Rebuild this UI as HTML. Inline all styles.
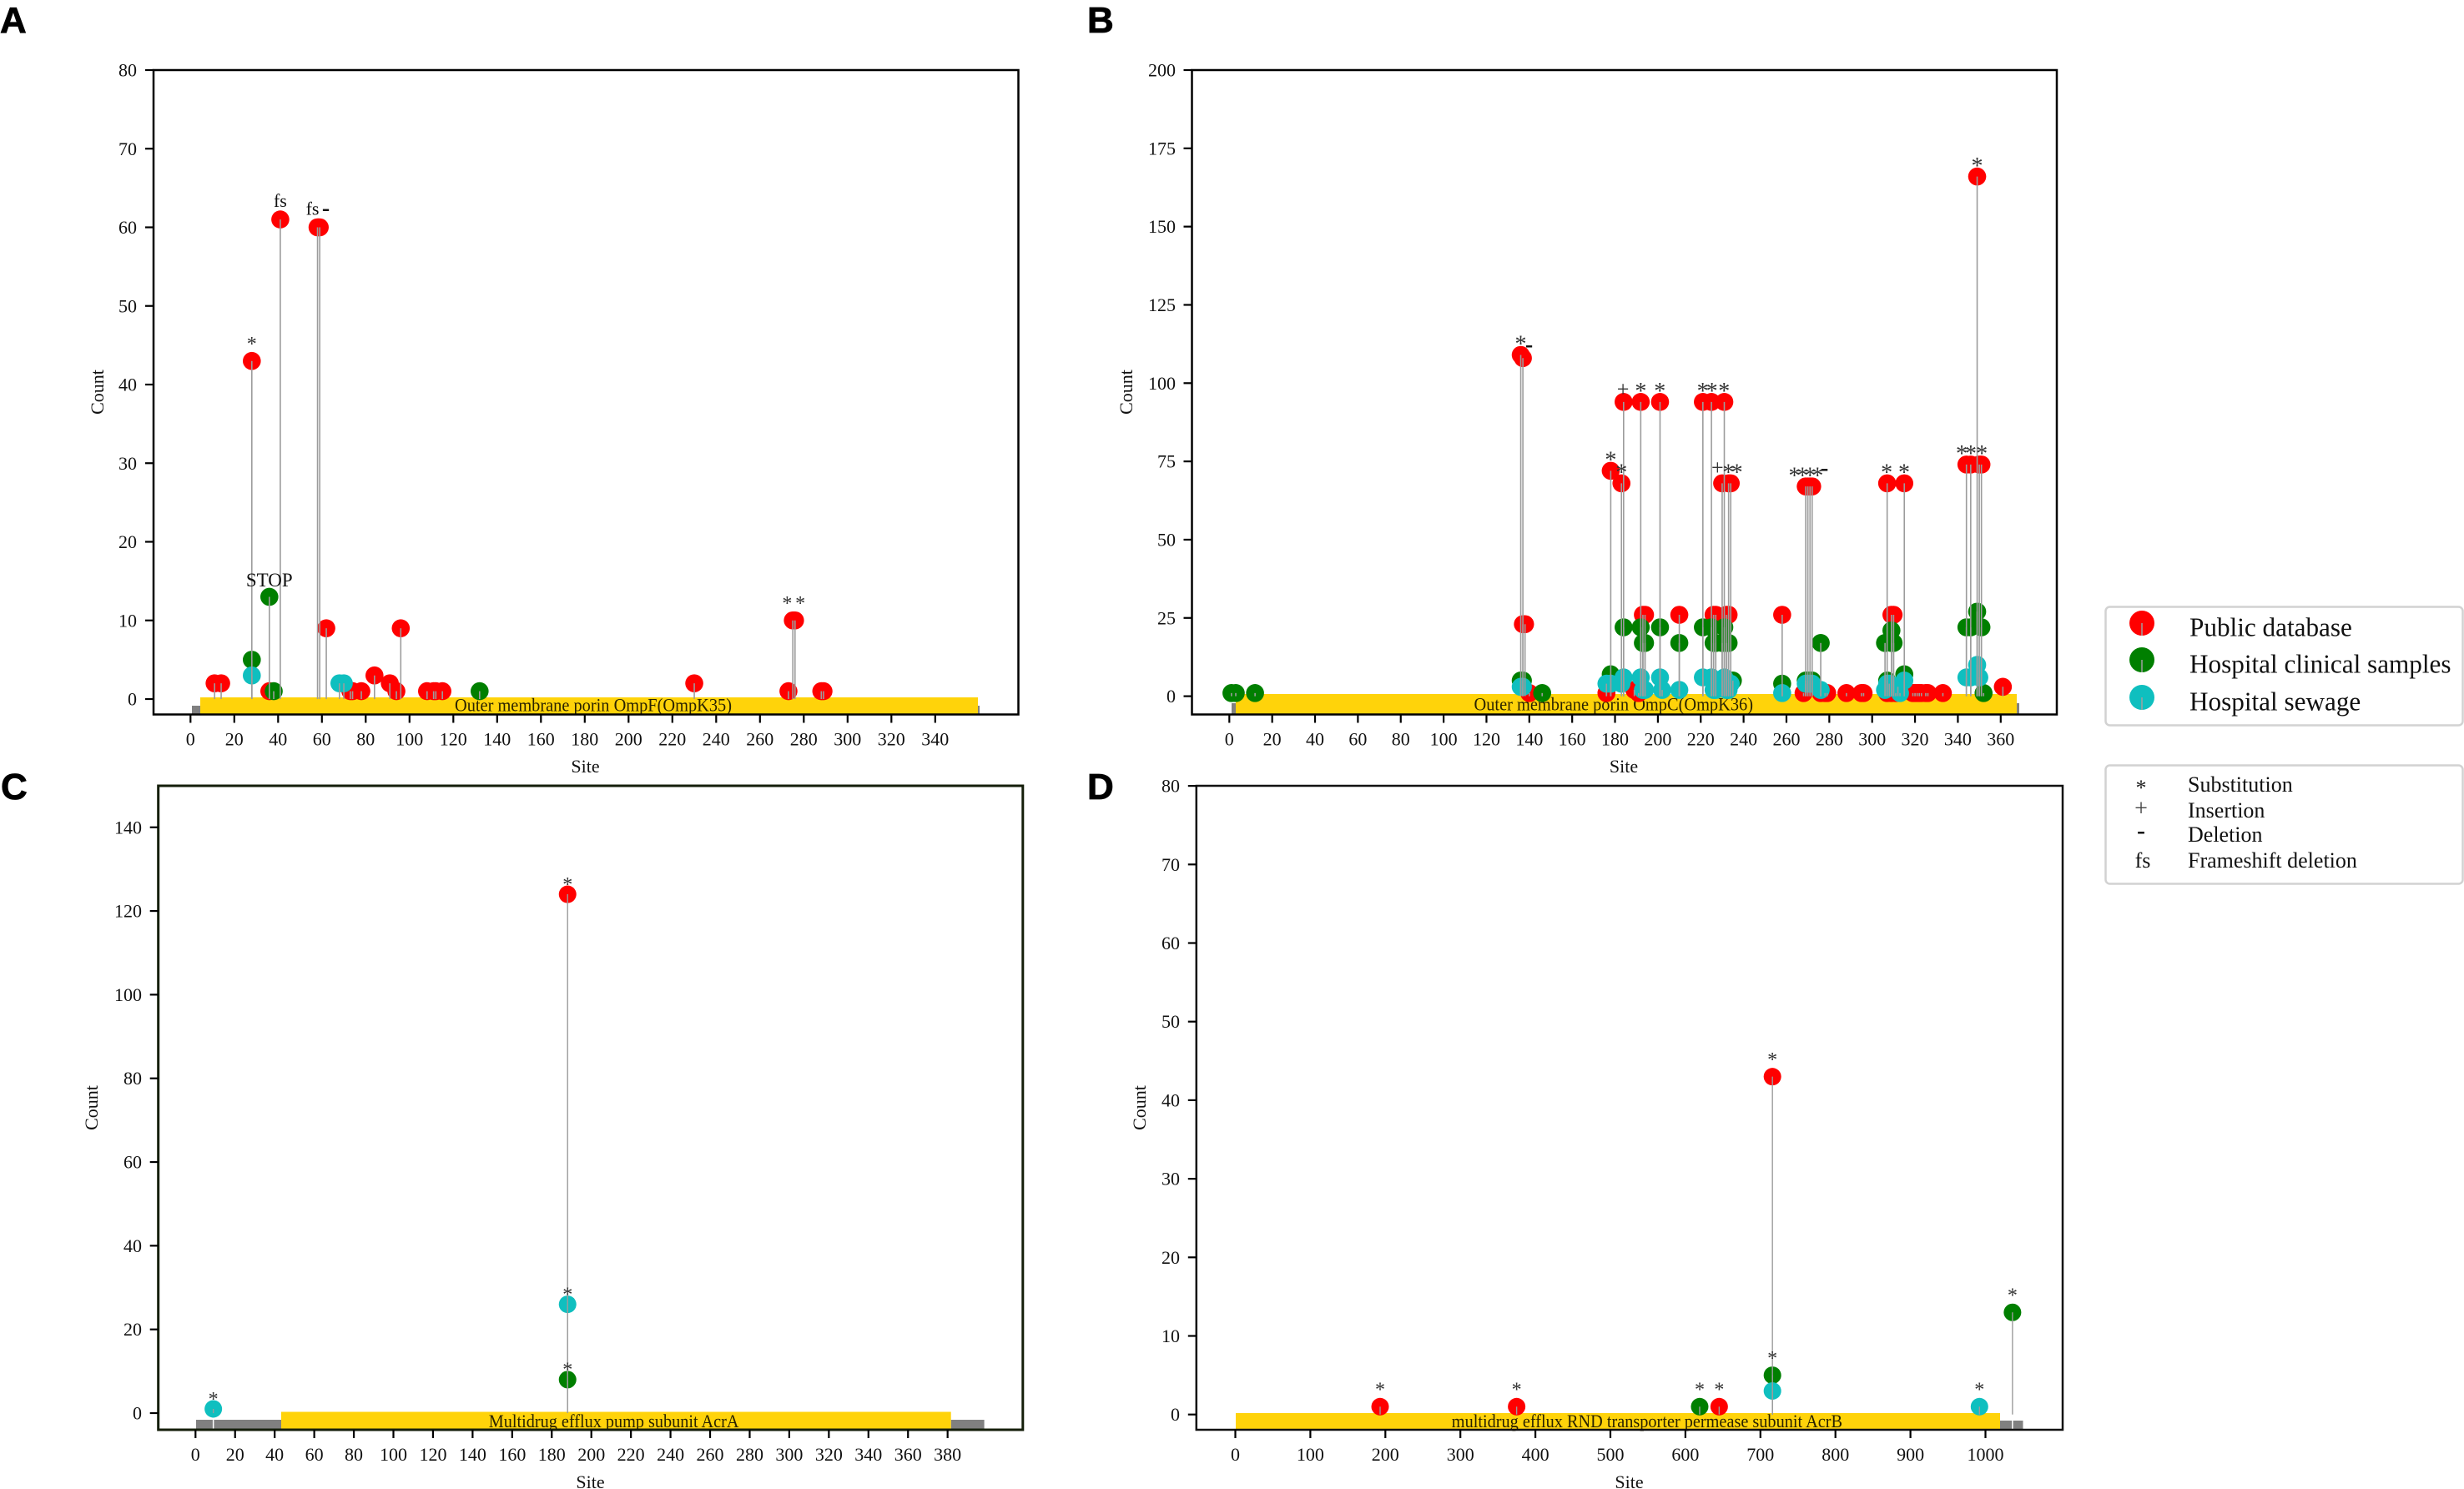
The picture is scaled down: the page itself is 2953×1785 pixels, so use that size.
<!DOCTYPE html>
<html lang="en">
<head>
<meta charset="utf-8">
<title>Mutation site lollipop charts</title>
<style>
html,body{margin:0;padding:0;background:#fff;}
svg{display:block;}
text{font-family:"Liberation Serif",serif;}
.pl{font-family:"Liberation Sans",sans-serif;font-weight:bold;font-size:44px;fill:#000;stroke:#000;stroke-width:0.8px;}
</style>
</head>
<body>
<svg id="fig" xmlns="http://www.w3.org/2000/svg" width="2953" height="1785" viewBox="0 0 2953 1785">
<rect width="2953" height="1785" fill="#fff"/>
<text class="pl" x="0" y="39">A</text>
<text class="pl" x="1303" y="39">B</text>
<text class="pl" x="1" y="958">C</text>
<text class="pl" x="1303" y="958">D</text>

<g>
<rect x="2523.5" y="727.5" width="428" height="142" rx="5" fill="#fff" stroke="#d2d2d2" stroke-width="2.5"/>
<circle cx="2567" cy="747" r="15" fill="#ff0000"/>
<line x1="2567" y1="747" x2="2567" y2="762" stroke="#a0a0a0" stroke-width="1.5"/>
<text x="2624" y="762.5" font-size="31.2" fill="#111">Public database</text>
<circle cx="2567" cy="791" r="15" fill="#007f00"/>
<line x1="2567" y1="791" x2="2567" y2="806" stroke="#a0a0a0" stroke-width="1.5"/>
<text x="2624" y="806.5" font-size="31.2" fill="#111">Hospital clinical samples</text>
<circle cx="2567" cy="836" r="15" fill="#0fbfbf"/>
<line x1="2567" y1="836" x2="2567" y2="851" stroke="#a0a0a0" stroke-width="1.5"/>
<text x="2624" y="851.5" font-size="31.2" fill="#111">Hospital sewage</text>
</g>
<g>
<rect x="2523.5" y="917.5" width="428" height="142" rx="5" fill="#fff" stroke="#d2d2d2" stroke-width="2.5"/>
<text x="2566" y="953" font-size="26" text-anchor="middle" fill="#222">*</text>
<text x="2622" y="949" font-size="26" fill="#111">Substitution</text>
<text x="2566" y="978" font-size="28" text-anchor="middle" fill="#444">+</text>
<text x="2622" y="980" font-size="26" fill="#111">Insertion</text>
<text x="2566" y="1005" font-size="30" font-weight="bold" text-anchor="middle" fill="#111">-</text>
<text x="2622" y="1009" font-size="26" fill="#111">Deletion</text>
<text x="2568" y="1040" font-size="26" text-anchor="middle" fill="#111">fs</text>
<text x="2622" y="1040" font-size="26" fill="#111">Frameshift deletion</text>
</g>
</svg>
<script>
// Panel A values: [site, count]
const aPublic = [[11,2],[14,2],[28,43],[36,1],[41,61],[58,60],[59,60],[62,9],[73,1],[74,1],[78,1],[84,3],[91,2],[94,1],[96,9],[108,1],[111,1],[112,1],[115,1],[230,2],[273,1],[275,10],[276,10],[288,1],[289,1]];
const aClinical = [[28,5],[36,13],[38,1],[132,1]];
const aSewage = [[28,3],[68,2],[70,2]];
const aXTicks = [0,20,40,60,80,100,120,140,160,180,200,220,240,260,280,300,320,340];
const aYTicks = [0,10,20,30,40,50,60,70,80];
const aNotes = [[28,43,'*'],[41,61,'fs'],[55.7,60,'fs'],[61.8,60,'-'],[36,13,'STOP'],[272.4,10,'*'],[278.4,10,'*']];

// Panel B values
const bPublic = [[136,109],[137,108],[137,23],[138,23],[140,1],[176,1],[178,72],[183,68],[184,94],[189,2],[191,1],[192,94],[193,26],[194,26],[201,94],[210,26],[221,94],[225,94],[226,26],[227,26],[230,68],[231,94],[232,26],[233,26],[233,68],[234,68],[258,26],[268,1],[269,67],[270,67],[271,67],[272,67],[276,1],[278,1],[279,1],[288,1],[295,1],[296,1],[307,68],[307,1],[309,1],[309,26],[310,26],[311,1],[315,68],[319,1],[320,1],[321,1],[322,1],[323,1],[325,1],[326,1],[333,1],[344,74],[346,74],[349,166],[350,74],[351,74],[361,3]];
const bClinical = [[1,1],[3,1],[12,1],[136,5],[137,5],[146,1],[178,7],[184,22],[192,22],[193,17],[194,17],[201,22],[210,17],[221,22],[225,22],[226,17],[227,17],[230,17],[231,22],[232,17],[233,17],[235,5],[258,4],[269,5],[270,5],[271,5],[272,5],[276,17],[306,17],[307,5],[309,21],[309,17],[310,17],[315,7],[344,22],[346,22],[349,27],[351,22],[352,1]];
const bSewage = [[136,3],[137,3],[176,4],[178,4],[183,4],[184,6],[192,6],[193,2],[194,2],[201,6],[202,2],[210,2],[221,6],[225,6],[226,2],[227,2],[230,5],[231,6],[232,2],[233,2],[234,4],[258,1],[269,4],[270,4],[271,4],[272,4],[276,2],[306,2],[307,4],[308,4],[312,3],[313,1],[315,5],[344,6],[346,6],[349,10],[350,6]];
const bXTicks = [0,20,40,60,80,100,120,140,160,180,200,220,240,260,280,300,320,340,360];
const bYTicks = [0,25,50,75,100,125,150,175,200];
const bNotes = [[136,109,'*'],[139.9,106.5,'-'],[178,72,'*'],[183,68,'*'],[183.7,93,'+'],[192,94,'*'],[200.9,94,'*'],[220.9,94,'*'],[225.2,94,'*'],[230.9,94,'*'],[227.8,68,'+'],[232.9,68,'*'],[236.9,68,'*'],[263.7,67,'*'],[267.5,67,'*'],[271,67,'*'],[274.5,67,'*'],[277.8,67,'-'],[306.8,68,'*'],[314.9,68,'*'],[341.8,74,'*'],[346,74,'*'],[351.2,74,'*'],[349,166,'*']];

// Panel C values
const cPublic = [[188,124]];
const cClinical = [[188,8]];
const cSewage = [[9,1],[188,26]];
const cXTicks = [0,20,40,60,80,100,120,140,160,180,200,220,240,260,280,300,320,340,360,380];
const cYTicks = [0,20,40,60,80,100,120,140];
const cNotes = [[9,1,'*'],[188,124,'*'],[188,26,'*'],[188,8,'*']];

// Panel D values
const dPublic = [[193,1],[375,1],[645,1],[716,43]];
const dClinical = [[619,1],[716,5],[1036,13]];
const dSewage = [[716,3],[992,1]];
const dXTicks = [0,100,200,300,400,500,600,700,800,900,1000];
const dYTicks = [0,10,20,30,40,50,60,70,80];
const dNotes = [[193,1,'*'],[375,1,'*'],[645,1,'*'],[716,43,'*'],[619,1,'*'],[716,5,'*'],[1036,13,'*'],[992,1,'*']];

const SVGNS = 'http://www.w3.org/2000/svg';
const fig = document.getElementById('fig');
const SERIES_COLORS = {public:'#ff0000', clinical:'#007f00', sewage:'#0fbfbf'};

function mk(parent, tag, attrs, txt){
  const e = document.createElementNS(SVGNS, tag);
  for (const k in attrs) e.setAttribute(k, attrs[k]);
  if (txt !== undefined) e.textContent = txt;
  parent.appendChild(e);
  return e;
}

function drawPanel(p){
  const g = mk(fig, 'g', {});
  
  
  const xS = v => p.x0 + v * p.xUnit;
  const yS = v => p.y0 - v * p.yUnit;

  // domain bars (grey backbone)
  p.greys.forEach(r => {
    const b = mk(g, 'rect', {x:r[0], y:p.greyTop, width:r[1]-r[0], height:p.bottom-p.greyTop, fill:'#808080'});
    
    
  });
  const y = mk(g, 'rect', {x:p.barL, y:p.barTop, width:p.barR-p.barL, height:p.bottom-p.barTop, fill:'#ffd30a'});
  
  
  const bt = mk(g, 'text', {x:(p.txtL+p.txtR)/2, y:p.txtY, 'font-size':22, 'text-anchor':'middle', fill:'#2a2300', textLength:p.txtR-p.txtL, lengthAdjust:'spacingAndGlyphs'}, p.barText);
  
  

  const groups = [['public', p.pub], ['clinical', p.cli], ['sewage', p.sew]];
  // markers, bottom to top
  groups.forEach(([key, arr]) => {
    arr.forEach(d => {
      const c = mk(g, 'circle', {cx:xS(d[0]), cy:yS(d[1]), r:p.r, fill:SERIES_COLORS[key]});
      
      
    });
  });
  // stems sit over the markers
  groups.forEach(([key, arr]) => {
    arr.forEach(d => {
      const l = mk(g, 'line', {x1:xS(d[0]), x2:xS(d[0]), y1:yS(d[1]), y2:yS(0), stroke:'#9c9c9c', 'stroke-width':p.stem});
      
      
      const outside = xS(d[0]) < p.barL || xS(d[0]) > p.barR;
      if (p.notch && outside) {
        mk(g, 'line', {x1:xS(d[0]), x2:xS(d[0]), y1:p.greyTop - 2, y2:p.bottom, stroke:'#fff', 'stroke-width':1.5});
      }
    });
  });

  // frame
  const fr = mk(g, 'rect', {x:p.left, y:p.top, width:p.right-p.left, height:p.bottom-p.top, fill:'none', stroke:p.frameColor, 'stroke-width':p.frameW});
  
  

  // x axis
  p.xTicks.forEach(t => {
    const tl = mk(g, 'line', {x1:xS(t), x2:xS(t), y1:p.bottom, y2:p.bottom+10, stroke:'#000', 'stroke-width':2.2});
    
    
    const tx = mk(g, 'text', {x:xS(t), y:p.bottom+p.xLabGap, 'font-size':22, 'text-anchor':'middle', fill:'#111'}, t);
    
    
  });
  // y axis
  p.yTicks.forEach(t => {
    const tl = mk(g, 'line', {x1:p.left-10, x2:p.left, y1:yS(t), y2:yS(t), stroke:'#000', 'stroke-width':2.2});
    
    
    const tx = mk(g, 'text', {x:p.yLabR, y:yS(t)+7.5, 'font-size':22, 'text-anchor':'end', fill:'#111'}, t);
    
    
  });
  const st = mk(g, 'text', {x:p.siteX, y:p.siteY, 'font-size':22, 'text-anchor':'middle', fill:'#111'}, 'Site');
  
  
  const ct = mk(g, 'text', {x:0, y:0, 'font-size':22, 'text-anchor':'middle', fill:'#111', transform:'translate(' + p.countX + ',' + p.countY + ') rotate(-90)'}, 'Count');
  
  

  // mutation annotations
  p.notes.forEach(n => {
    const sym = n[2];
    const off = p.off[sym] !== undefined ? p.off[sym] : p.off.other;
    const cy = yS(n[1]) - off;
    let size = 22, base = 5, weight = 'normal', fill = '#111';
    if (sym === '*') { size = p.starSize; base = 0.47 * size; fill = '#333'; }
    else if (sym === '+') { size = 26; base = 6.5; fill = '#333'; }
    else if (sym === '-') { size = 28; base = 6; weight = 'bold'; fill = '#111'; }
    else if (sym === 'STOP') { size = 23; base = 7.5; }
    const a = mk(g, 'text', {x:xS(n[0]), y:cy+base, 'font-size':size, 'font-weight':weight, 'text-anchor':'middle', fill:fill}, sym);
    
    
  });
}

drawPanel({id:'a', left:184, right:1220.5, top:84, bottom:856.5, x0:228.3, xUnit:2.625, y0:838, yUnit:9.425,
  greys:[[230,241],[1172,1174]], greyTop:846, barL:240, barR:1172, barTop:836, barText:'Outer membrane porin OmpF(OmpK35)', txtL:545, txtR:877, txtY:852.5,
  pub:aPublic, cli:aClinical, sew:aSewage, xTicks:aXTicks, yTicks:aYTicks, notes:aNotes, r:10.8, stem:1.6, notch:false,
  frameColor:'#000', frameW:2.5, xLabGap:37, yLabR:164, siteX:701.5, siteY:926, countX:124, countY:470, off:{'*':24, other:20}, starSize:24});

drawPanel({id:'b', left:1428.5, right:2465, top:84, bottom:856.5, x0:1473.3, xUnit:2.568, y0:834.6, yUnit:3.753,
  greys:[[1476,1482],[2417,2420]], greyTop:843, barL:1481, barR:2417, barTop:832, barText:'Outer membrane porin OmpC(OmpK36)', txtL:1766.5, txtR:2101, txtY:851.5,
  pub:bPublic, cli:bClinical, sew:bSewage, xTicks:bXTicks, yTicks:bYTicks, notes:bNotes, r:10.8, stem:1.6, notch:false,
  frameColor:'#000', frameW:2.5, xLabGap:37, yLabR:1409, siteX:1946, siteY:926, countX:1357, countY:470, off:{'*':17, '+':17, '-':19, other:17}, starSize:28});

drawPanel({id:'c', left:189.7, right:1225.8, top:942, bottom:1714, x0:234.3, xUnit:2.372, y0:1694, yUnit:5.016,
  greys:[[235,337],[1139.7,1179.6]], greyTop:1702, barL:337, barR:1139.7, barTop:1692.5, barText:'Multidrug efflux pump subunit AcrA', txtL:585.8, txtR:885.5, txtY:1711,
  pub:cPublic, cli:cClinical, sew:cSewage, xTicks:cXTicks, yTicks:cYTicks, notes:cNotes, r:10.5, stem:1.4, notch:true,
  frameColor:'#141e0a', frameW:3, xLabGap:37, yLabR:170, siteX:707.5, siteY:1784, countX:117, countY:1328, off:{'*':15.5, other:15.5}, starSize:24});

drawPanel({id:'d', left:1433.8, right:2472, top:942, bottom:1714, x0:1480.5, xUnit:0.899, y0:1695.7, yUnit:9.42,
  greys:[[2397,2424.5]], greyTop:1703, barL:1481, barR:2397, barTop:1694, barText:'multidrug efflux RND transporter permease subunit AcrB', txtL:1739.8, txtR:2208, txtY:1711,
  pub:dPublic, cli:dClinical, sew:dSewage, xTicks:dXTicks, yTicks:dYTicks, notes:dNotes, r:10.5, stem:1.4, notch:true,
  frameColor:'#111', frameW:2.5, xLabGap:37, yLabR:1414, siteX:1952.5, siteY:1784, countX:1373, countY:1328, off:{'*':24, other:24}, starSize:24});
</script>
</body>
</html>
